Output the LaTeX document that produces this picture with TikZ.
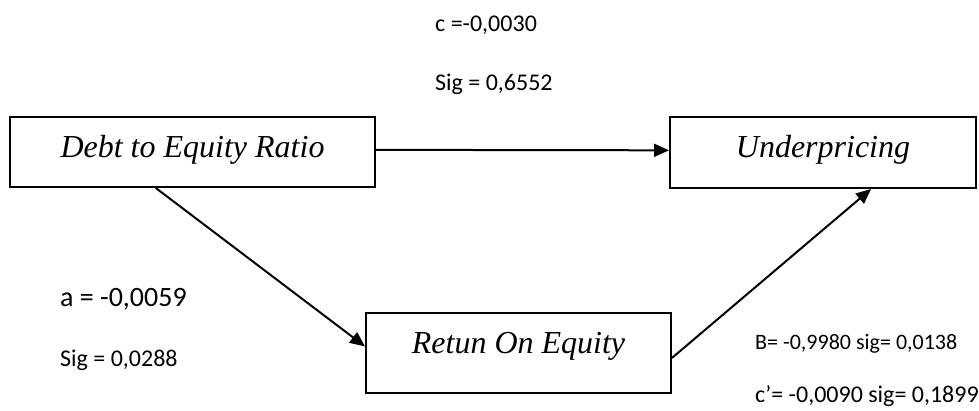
\documentclass[tikz,border=0pt]{standalone}
\usepackage{fontspec}
\setmainfont{Liberation Serif}
\newfontfamily\calfont{Carlito}
\usetikzlibrary{arrows.meta,calc}
\begin{document}
\begin{tikzpicture}[x=1pt,y=-1pt,
  vbox/.style={draw=black,line width=2pt,rectangle,inner sep=0pt,
    font=\fontsize{32}{36}\selectfont\itshape},
  conn/.style={line width=2pt,-{Triangle[length=15pt,width=13pt]}},
  lbl/.style={anchor=base west,inner sep=0pt,font=\calfont\fontsize{24}{28}\selectfont}]
\useasboundingbox (0,0) rectangle (979,410);
\node[vbox,minimum width=365pt,minimum height=70pt,text height=22pt,text depth=12pt] (D) at (192.5,152) {Debt to Equity Ratio};
\node[vbox,minimum width=306pt,minimum height=71pt,text height=22pt,text depth=12pt] (U) at (823,152.5) {Underpricing};
\node[vbox,minimum width=305pt,minimum height=80pt,text height=12pt,text depth=12pt] (R) at (518.5,353) {Retun On Equity};
\draw[conn] ($(D.north east)!0.47!(D.south east)$) -- ($(U.north west)!0.47!(U.south west)$);
\draw[conn] ($(D.south west)!0.40!(D.south east)$) -- ($(R.north west)!0.42!(R.south west)$);
\draw[conn] ($(R.north east)!0.56!(R.south east)$) -- ($(U.south west)!0.656!(U.south east)$);
\node[lbl] (lc) at (435,31) {c =-0,0030};
\node[lbl] (lcs) at (435,90) {Sig = 0,6552};
\node[lbl,font=\calfont\fontsize{28}{32}\selectfont] (la) at (60,306) {a = -0,0059};
\node[lbl] (las) at (60,366) {Sig = 0,0288};
\node[lbl,font=\calfont\fontsize{22}{26}\selectfont] (lb) at (755,349) {B= -0,9980 sig= 0,0138};
\node[lbl] (lcp) at (755,402) {c’= -0,0090 sig= 0,1899};
\end{tikzpicture}
\end{document}
